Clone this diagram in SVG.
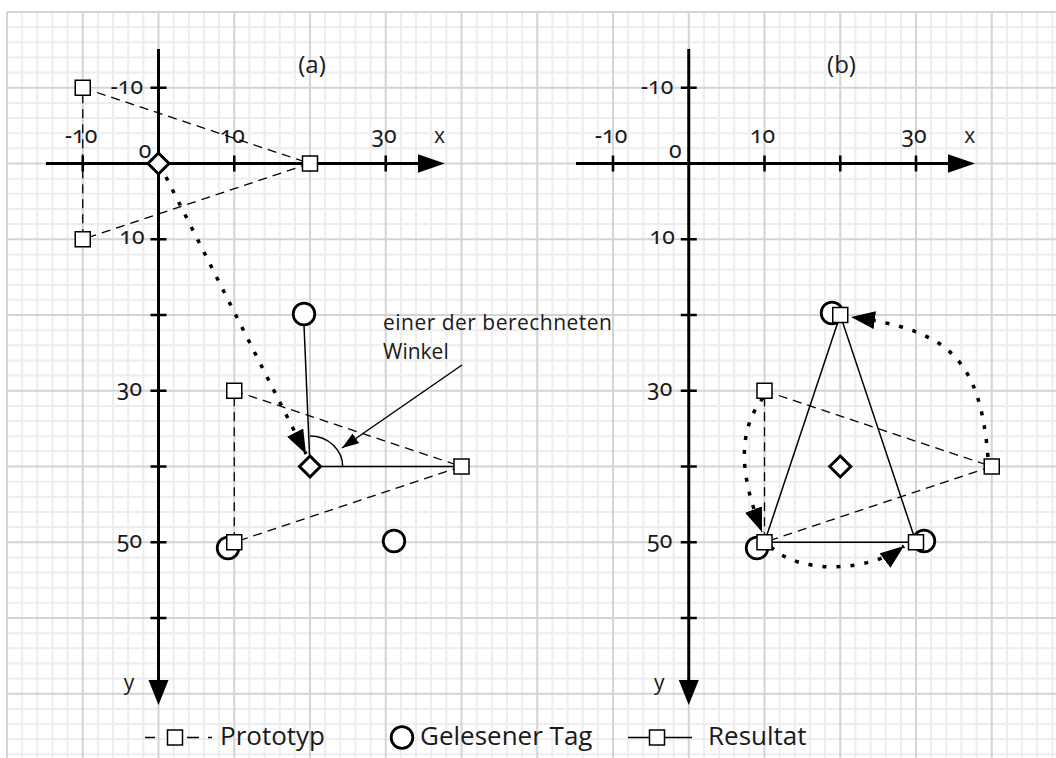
<svg xmlns="http://www.w3.org/2000/svg" xmlns:xlink="http://www.w3.org/1999/xlink" width="1056" height="758" viewBox="0 0 1056 758">
<style>
.gmin{stroke:#ededed;stroke-width:2;fill:none}
.gmaj{stroke:#d4d4d4;stroke-width:2;fill:none}
.axis{stroke:#000;stroke-width:3;fill:none}
.tick{stroke:#000;stroke-width:2.6;fill:none}
.dash{stroke:#000;stroke-width:1.3;stroke-dasharray:9 6;fill:none}
.solid{stroke:#000;stroke-width:1.5;fill:none}
.dot{stroke:#000;stroke-width:3.5;stroke-dasharray:4 10;fill:none}
.sq{fill:#fff;stroke:#000;stroke-width:1.5}
.tag{fill:#fff;stroke:#000;stroke-width:2.8}
.dia{fill:#fff;stroke:#000;stroke-width:3}
.num{font-family:"Noto Sans",sans-serif;font-size:23px;font-variant-numeric:oldstyle-nums;fill:#1a1a1a}
.lbl{font-family:"Open Sans",sans-serif;fill:#1a1a1a}
.end{text-anchor:end}
.mid{text-anchor:middle}
</style>
<defs>
<marker id="ah" markerUnits="userSpaceOnUse" markerWidth="24" markerHeight="18" viewBox="0 0 24 18" refX="24" refY="9" orient="auto"><path d="M0 0L24 9L0 18Z" fill="#000"/></marker>
<marker id="ahs" markerUnits="userSpaceOnUse" markerWidth="17" markerHeight="12" viewBox="0 0 17 12" refX="17" refY="6" orient="auto"><path d="M0 0L17 6L0 12Z" fill="#000"/></marker>
<rect id="sq" x="-7.5" y="-7.5" width="15" height="15" class="sq"/>
<path id="dia" d="M0 -10.5L10.5 0L0 10.5L-10.5 0Z" class="dia"/>
</defs>
<rect width="1056" height="758" fill="#fff"/>
<g id="grid">
<path class="gmin" d="M22.15 12V758M37.3 12V758M52.45 12V758M67.6 12V758M97.9 12V758M113.05 12V758M128.2 12V758M143.35 12V758M173.65 12V758M188.8 12V758M203.95 12V758M219.1 12V758M249.4 12V758M264.55 12V758M279.7 12V758M294.85 12V758M325.15 12V758M340.3 12V758M355.45 12V758M370.6 12V758M400.9 12V758M416.05 12V758M431.2 12V758M446.35 12V758M476.65 12V758M491.8 12V758M506.95 12V758M522.1 12V758M552.4 12V758M567.55 12V758M582.7 12V758M597.85 12V758M628.15 12V758M643.3 12V758M658.45 12V758M673.6 12V758M703.9 12V758M719.05 12V758M734.2 12V758M749.35 12V758M779.65 12V758M794.8 12V758M809.95 12V758M825.1 12V758M855.4 12V758M870.55 12V758M885.7 12V758M900.85 12V758M931.15 12V758M946.3 12V758M961.45 12V758M976.6 12V758M1006.9 12V758M1022.05 12V758M1037.2 12V758M1052.35 12V758"/>
<path class="gmin" d="M7 27.15H1056M7 42.3H1056M7 57.45H1056M7 72.6H1056M7 102.9H1056M7 118.05H1056M7 133.2H1056M7 148.35H1056M7 178.65H1056M7 193.8H1056M7 208.95H1056M7 224.1H1056M7 254.4H1056M7 269.55H1056M7 284.7H1056M7 299.85H1056M7 330.15H1056M7 345.3H1056M7 360.45H1056M7 375.6H1056M7 405.9H1056M7 421.05H1056M7 436.2H1056M7 451.35H1056M7 481.65H1056M7 496.8H1056M7 511.95H1056M7 527.1H1056M7 557.4H1056M7 572.55H1056M7 587.7H1056M7 602.85H1056M7 633.15H1056M7 648.3H1056M7 663.45H1056M7 678.6H1056M7 708.9H1056M7 724.05H1056M7 739.2H1056M7 754.35H1056"/>
<path class="gmaj" d="M7 12V758M82.75 12V758M158.5 12V758M234.25 12V758M310 12V758M385.75 12V758M461.5 12V758M537.25 12V758M613 12V758M688.75 12V758M764.5 12V758M840.25 12V758M916 12V758M991.75 12V758M7 12H1056M7 87.75H1056M7 163.5H1056M7 239.25H1056M7 315H1056M7 390.75H1056M7 466.5H1056M7 542.25H1056M7 618H1056M7 693.75H1056"/>
</g>
<g id="axes-a">
<path class="axis" d="M46 163.5H420M158.5 49V682"/>
<polygon points="444.75,163.5 418,154.3 418,172.7"/>
<polygon points="158.5,705 148.5,680 168.5,680"/>
<path class="tick" d="M82.75 155.5V171.5M234.25 155.5V171.5M310 155.5V171.5M385.75 155.5V171.5M150.5 87.75H166.5M150.5 239.25H166.5M150.5 315H166.5M150.5 390.75H166.5M150.5 466.5H166.5M150.5 542.25H166.5M150.5 618H166.5"/>
<text class="num mid" x="81" y="143">-10</text>
<text class="num mid" x="232.25" y="143">10</text>
<text class="num mid" x="384" y="143">30</text>
<text class="num mid" x="145" y="158">0</text>
<text class="num end" x="143" y="94">-10</text>
<text class="num end" x="144.5" y="244">10</text>
<text class="num end" x="142" y="396">30</text>
<text class="num end" x="142" y="547.5">50</text>
<text class="lbl mid" x="439.5" y="143" font-size="21">x</text>
<text class="lbl mid" x="129" y="690" font-size="21">y</text>
<text class="lbl mid" x="312" y="73" font-size="24">(a)</text>
</g>
<g id="axes-b">
<path class="axis" d="M576 163.5H950M688.75 49V682"/>
<polygon points="975,163.5 948,154.3 948,172.7"/>
<polygon points="688.75,705 678.75,680 698.75,680"/>
<path class="tick" d="M613 155.5V171.5M764.5 155.5V171.5M840.25 155.5V171.5M916 155.5V171.5M680.75 87.75H696.75M680.75 239.25H696.75M680.75 315H696.75M680.75 390.75H696.75M680.75 466.5H696.75M680.75 542.25H696.75M680.75 618H696.75"/>
<text class="num mid" x="611" y="143">-10</text>
<text class="num mid" x="762.5" y="143">10</text>
<text class="num mid" x="914" y="143">30</text>
<text class="num mid" x="675.25" y="158">0</text>
<text class="num end" x="673.25" y="94">-10</text>
<text class="num end" x="674.75" y="244">10</text>
<text class="num end" x="672.25" y="396">30</text>
<text class="num end" x="672.25" y="547.5">50</text>
<text class="lbl mid" x="969.75" y="143" font-size="21">x</text>
<text class="lbl mid" x="659.25" y="690" font-size="21">y</text>
<text class="lbl mid" x="841.5" y="73" font-size="24">(b)</text>
</g>
<g id="connectors">
<path class="dash" d="M82.75 87.75L310 163.5L82.75 239.25Z"/>
<path class="dash" d="M234.25 390.75L461.5 466.5L234.25 542.25Z"/>
<path class="dash" d="M764.5 390.75L991.75 466.5L764.5 542.25Z"/>
<path class="dot" d="M166 177L306 454" marker-end="url(#ah)"/>
<path class="solid" d="M304 325L309.5 455M322 466.5H454"/>
<path class="solid" d="M310 436A32.7 30.5 0 0 1 342.7 466.5"/>
<path class="solid" d="M462 365L342 448" marker-end="url(#ahs)"/>
<path class="solid" d="M840.25 315L764.5 542.25H916Z"/>
<path class="dot" d="M988 457C980 360 950 330 851 317" marker-end="url(#ah)"/>
<path class="dot" d="M763 398C730 440 748 495 762 532" marker-end="url(#ah)"/>
<path class="dot" d="M771 547C800 575 870 572 904 546" marker-end="url(#ah)"/>
</g>
<g id="tag-a1"><circle class="tag" cx="304" cy="314" r="10.8"/></g>
<g id="tag-a2"><circle class="tag" cx="394" cy="541" r="10.8"/></g>
<g id="tag-a3"><circle class="tag" cx="228" cy="548" r="10.8"/></g>
<g id="tag-b1"><circle class="tag" cx="832" cy="313" r="10.8"/></g>
<g id="tag-b2"><circle class="tag" cx="757" cy="548" r="10.8"/></g>
<g id="tag-b3"><circle class="tag" cx="924" cy="541" r="10.8"/></g>
<g id="proto-a1-p1"><use xlink:href="#sq" x="82.75" y="87.75"/></g>
<g id="proto-a1-p2"><use xlink:href="#sq" x="310" y="163.5"/></g>
<g id="proto-a1-p3"><use xlink:href="#sq" x="82.75" y="239.25"/></g>
<g id="proto-a2-p1"><use xlink:href="#sq" x="234.25" y="390.75"/></g>
<g id="proto-a2-p2"><use xlink:href="#sq" x="461.5" y="466.5"/></g>
<g id="proto-a2-p3"><use xlink:href="#sq" x="234.25" y="542.25"/></g>
<g id="proto-b-p1"><use xlink:href="#sq" x="764.5" y="390.75"/></g>
<g id="proto-b-p2"><use xlink:href="#sq" x="991.75" y="466.5"/></g>
<g id="result-b-r1"><use xlink:href="#sq" x="840.25" y="315"/></g>
<g id="result-b-r2"><use xlink:href="#sq" x="764.5" y="542.25"/></g>
<g id="result-b-r3"><use xlink:href="#sq" x="916" y="542.25"/></g>
<g id="center-a0"><use xlink:href="#dia" x="158.5" y="163.5"/></g>
<g id="center-a1"><use xlink:href="#dia" x="310" y="466.5"/></g>
<g id="center-b"><use xlink:href="#dia" x="840.25" y="466.5"/></g>
<g id="annotation">
<text class="lbl" x="383" y="329.5" font-size="21" textLength="229">einer der berechneten</text>
<text class="lbl" x="383" y="358.5" font-size="21">Winkel</text>
</g>
<g id="legend">
<path class="solid" d="M145 737.5H155M187 737.5H199M208 737.5H212" style="stroke-width:1.3"/>
<use xlink:href="#sq" x="175" y="737.5"/>
<text class="lbl" x="220" y="745" font-size="26">Prototyp</text>
<circle class="tag" cx="402" cy="737.5" r="10.8"/>
<text class="lbl" x="420" y="745" font-size="26">Gelesener Tag</text>
<path class="solid" d="M628 737.5H692" style="stroke-width:1.3"/>
<use xlink:href="#sq" x="657" y="737.5"/>
<text class="lbl" x="708" y="745" font-size="26">Resultat</text>
</g>
</svg>
